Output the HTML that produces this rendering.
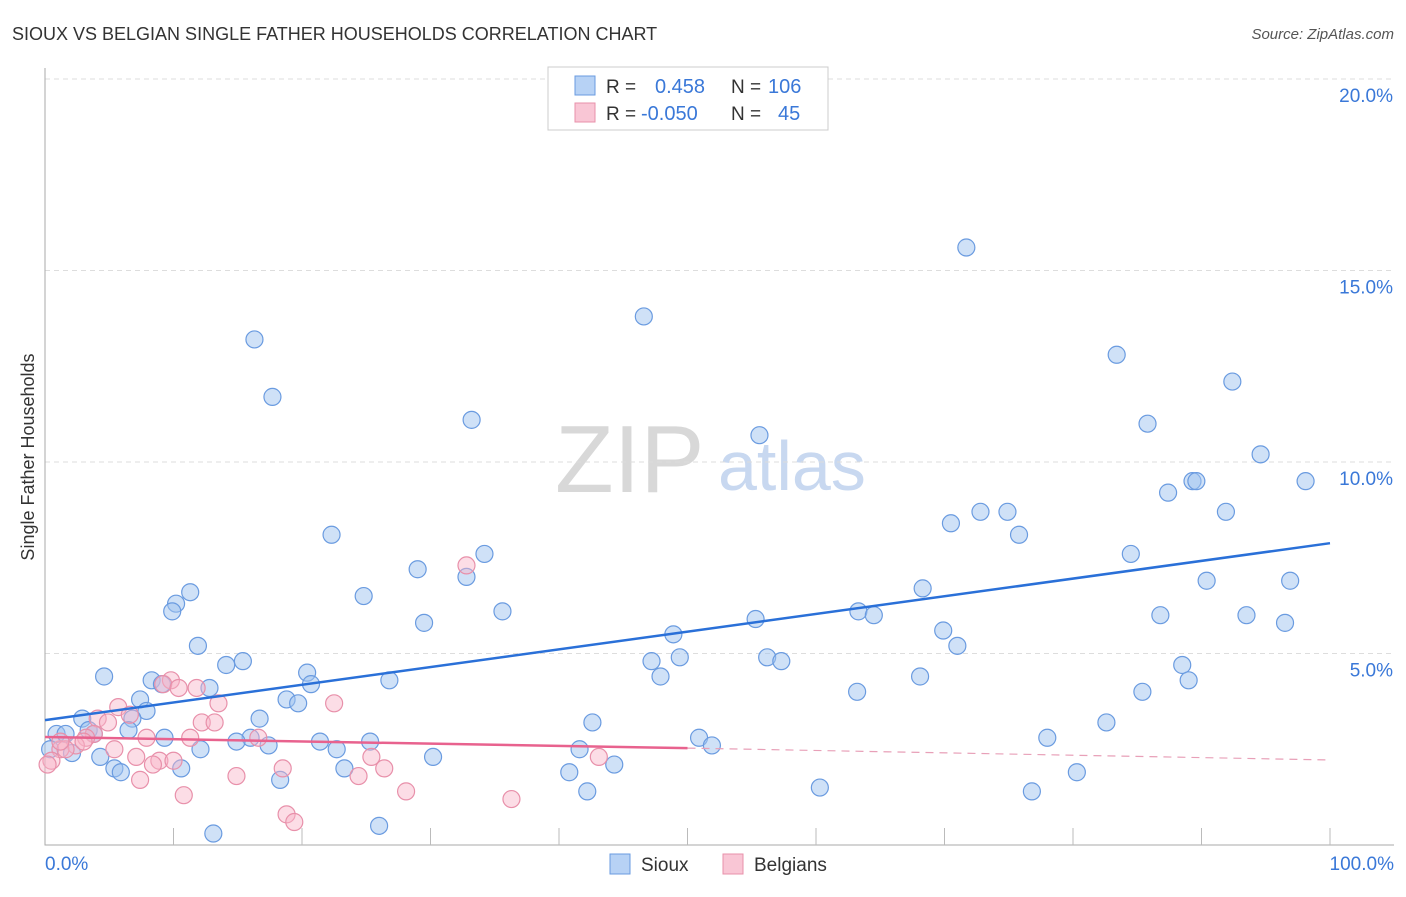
<!DOCTYPE html>
<html><head><meta charset="utf-8"><style>
body{margin:0;background:#fff;font-family:"Liberation Sans",sans-serif}
svg text{font-family:"Liberation Sans",sans-serif}
</style></head><body>
<svg id="chart" width="1406" height="892">
<text x="12" y="40" font-size="18" fill="#333">SIOUX VS BELGIAN SINGLE FATHER HOUSEHOLDS CORRELATION CHART</text>
<text x="1394" y="39" font-size="15" fill="#555" text-anchor="end" font-style="italic">Source: ZipAtlas.com</text>
<text x="555" y="492" font-size="96" fill="#d8d8d8" font-family="Liberation Serif">ZIP</text>
<text x="718" y="490" font-size="70" fill="#c8d8f0">atlas</text>
<text x="34" y="457" font-size="18" fill="#333" text-anchor="middle" transform="rotate(-90 34 457)">Single Father Households</text>
<g id="grid"></g><g id="pts"></g><g id="trend"></g>
<g>
<rect x="548" y="67" width="280" height="63" fill="#fff" stroke="#ccc"/>
<rect x="575" y="76" width="20" height="19" fill="#b7d2f5" stroke="#6a9be0"/>
<rect x="575" y="103" width="20" height="19" fill="#f9c6d5" stroke="#e890aa"/>
<text x="606" y="93" font-size="19" fill="#333">R = </text><text x="655" y="93" font-size="20" fill="#3a78d8">0.458</text>
<text x="731" y="93" font-size="19" fill="#333">N = </text><text x="768" y="93" font-size="20" fill="#3a78d8">106</text>
<text x="606" y="120" font-size="19" fill="#333">R = </text><text x="641" y="120" font-size="20" fill="#3a78d8">-0.050</text>
<text x="731" y="120" font-size="19" fill="#333">N = </text><text x="778" y="120" font-size="20" fill="#3a78d8">45</text>
</g>
<g>
<rect x="610" y="854" width="20" height="20" fill="#b7d2f5" stroke="#6a9be0"/>
<text x="641" y="871" font-size="19" fill="#333">Sioux</text>
<rect x="723" y="854" width="20" height="20" fill="#f9c6d5" stroke="#e890aa"/>
<text x="754" y="871" font-size="19" fill="#333">Belgians</text>
</g>
</svg>
<script>
const blueX=[71.7,46.6,16.3,17.7,33.2,83.4,92.4,85.8,55.6,94.6,89.3,89.6,98.1,87.4,72.8,74.9,91.9,70.5,75.8,22.3,84.5,34.2,29.0,32.8,90.4,96.9,11.3,68.3,24.8,10.2,9.9,35.6,63.3,55.3,64.5,86.8,93.5,29.5,96.5,69.9,48.9,71.0,11.9,49.4,47.2,56.2,57.3,15.4,14.1,88.5,4.6,20.4,47.9,68.1,89.0,8.3,9.1,20.7,26.8,12.8,63.2,85.4,7.4,18.8,19.7,7.9,2.9,6.8,16.7,42.6,82.6,3.4,6.5,0.9,1.6,3.8,9.3,16.0,14.9,21.4,25.3,50.9,78.0,17.4,51.9,41.6,0.4,2.1,12.1,22.7,4.3,30.2,10.6,23.3,44.3,5.4,5.9,40.8,80.3,18.3,42.2,60.3,76.8,26.0,13.1];
const blueY=[15.6,13.8,13.2,11.7,11.1,12.8,12.1,11.0,10.7,10.2,9.5,9.5,9.5,9.2,8.7,8.7,8.7,8.4,8.1,8.1,7.6,7.6,7.2,7.0,6.9,6.9,6.6,6.7,6.5,6.3,6.1,6.1,6.1,5.9,6.0,6.0,6.0,5.8,5.8,5.6,5.5,5.2,5.2,4.9,4.8,4.9,4.8,4.8,4.7,4.7,4.4,4.5,4.4,4.4,4.3,4.3,4.2,4.2,4.3,4.1,4.0,4.0,3.8,3.8,3.7,3.5,3.3,3.3,3.3,3.2,3.2,3.0,3.0,2.9,2.9,2.9,2.8,2.8,2.7,2.7,2.7,2.8,2.8,2.6,2.6,2.5,2.5,2.4,2.5,2.5,2.3,2.3,2.0,2.0,2.1,2.0,1.9,1.9,1.9,1.7,1.4,1.5,1.4,0.5,0.3];
const pinkX=[32.8,22.5,13.5,5.7,9.8,9.2,10.4,11.8,4.1,4.9,6.6,12.2,13.2,3.8,3.2,7.9,11.3,16.6,2.4,1.2,5.4,1.6,7.1,8.9,10.0,8.4,25.4,0.5,0.2,18.5,26.4,14.9,7.4,24.4,43.1,10.8,28.1,36.3,18.8,19.4,1.2,3.0];
const pinkY=[7.3,3.7,3.7,3.6,4.3,4.2,4.1,4.1,3.3,3.2,3.4,3.2,3.2,2.9,2.8,2.8,2.8,2.8,2.6,2.5,2.5,2.5,2.3,2.2,2.2,2.1,2.3,2.2,2.1,2.0,2.0,1.8,1.7,1.8,2.3,1.3,1.4,1.2,0.8,0.6,2.7,2.7];
const blueTrend=[3.26,7.88];
const pinkTrend=[2.82,2.53,2.22];
const yTicks=[5,10,15,20];
const yTickLabels=["5.0%","10.0%","15.0%","20.0%"];
const xTicks=[0,10,20,30,40,50,60,70,80,90,100];
const NS="http://www.w3.org/2000/svg";
const sx=v=>45+v*12.85, sy=v=>845-v*38.3;
function mk(tag,attrs,parent){const e=document.createElementNS(NS,tag);for(const k in attrs)e.setAttribute(k,attrs[k]);document.getElementById(parent).appendChild(e);return e;}
yTicks.forEach((t,i)=>{
 const l=mk('line',{x1:45,x2:1394,y1:sy(t),y2:sy(t),stroke:'#ddd','stroke-dasharray':'5,4'},'grid');
 
 
 const tx=mk('text',{x:1393,y:sy(t)+23,'font-size':19,fill:'#3a78d8','text-anchor':'end'},'grid');tx.textContent=yTickLabels[i];
 
 
});
const ax=mk('path',{d:'M45,68V845H1394',stroke:'#aaa',fill:'none'},'grid');


xTicks.slice(1).forEach(t=>{const l=mk('line',{x1:sx(t),x2:sx(t),y1:828,y2:845,stroke:'#bbb'},'grid');
 
 });
const x0=mk('text',{x:45,y:870,'font-size':19,fill:'#3a78d8'},'grid');x0.textContent='0.0%';


const x1=mk('text',{x:1394,y:870,'font-size':19,fill:'#3a78d8','text-anchor':'end'},'grid');x1.textContent='100.0%';


blueX.forEach((v,i)=>{const c=mk('circle',{cx:sx(v),cy:sy(blueY[i]),r:8.5,fill:'rgba(160,196,240,0.5)',stroke:'#6a9be0','stroke-width':1.2},'pts');
 
 });
pinkX.forEach((v,i)=>{const c=mk('circle',{cx:sx(v),cy:sy(pinkY[i]),r:8.5,fill:'rgba(248,180,200,0.45)',stroke:'#e890aa','stroke-width':1.2},'pts');
 
 });
const bt=mk('line',{x1:sx(0),y1:sy(blueTrend[0]),x2:sx(100),y2:sy(blueTrend[1]),stroke:'#2a70d8','stroke-width':2.5},'trend');


const pt=mk('line',{x1:sx(0),y1:sy(pinkTrend[0]),x2:sx(50),y2:sy(pinkTrend[1]),stroke:'#e8628e','stroke-width':2.5},'trend');


const pd=mk('line',{x1:sx(50),y1:sy(pinkTrend[1]),x2:sx(100),y2:sy(pinkTrend[2]),stroke:'#e8a0b8','stroke-width':1.2,'stroke-dasharray':'8,6'},'trend');


</script>
</body></html>
